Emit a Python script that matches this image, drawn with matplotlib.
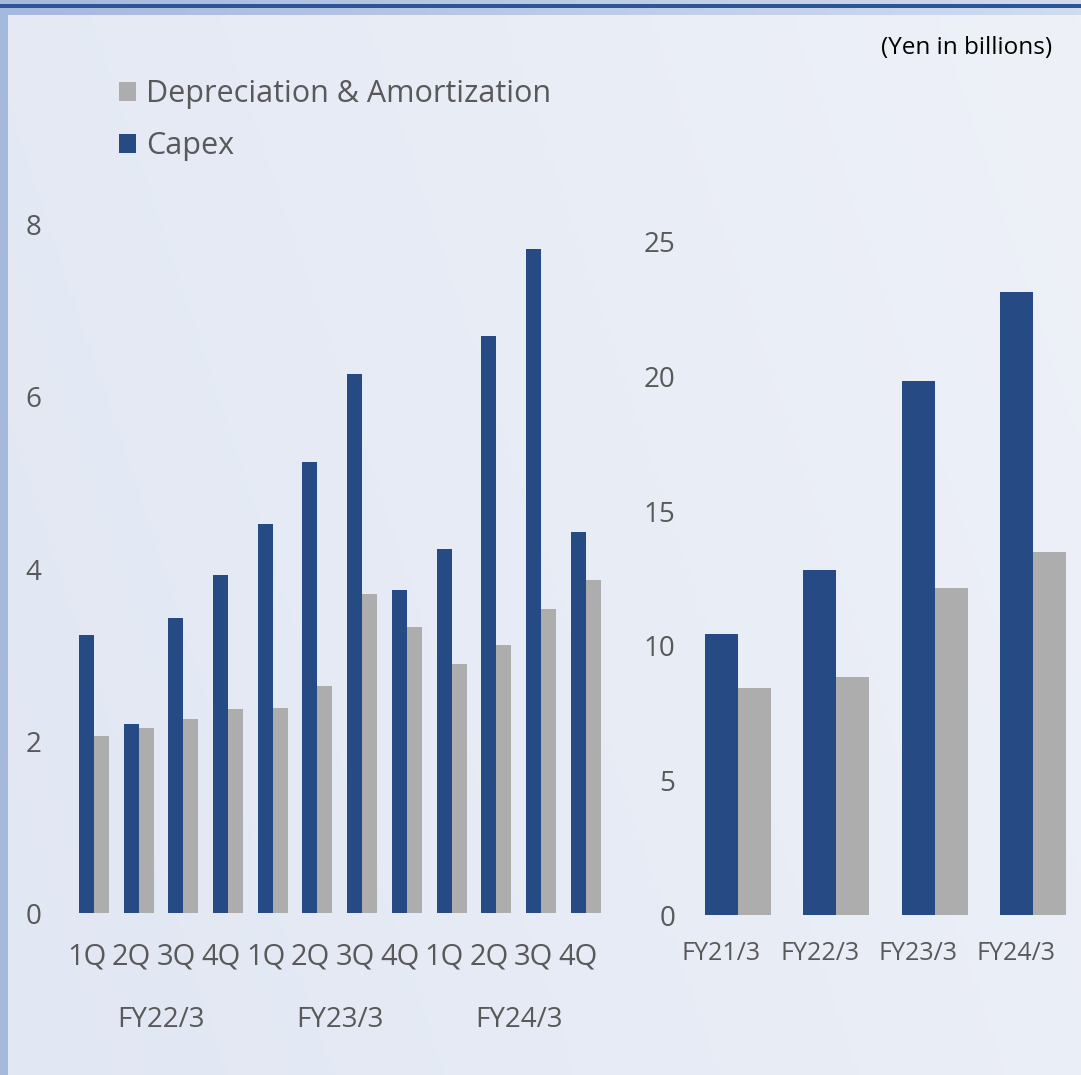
import numpy as np
import matplotlib
matplotlib.use("Agg")
import matplotlib.pyplot as plt
from matplotlib.colors import LinearSegmentedColormap
from matplotlib.patches import Rectangle

plt.rcParams['font.family'] = ['Open Sans', 'DejaVu Sans']

# ---- data ----
quarters = ["1Q", "2Q", "3Q", "4Q"] * 3
fiscal_years_q = ["FY22/3", "FY23/3", "FY24/3"]
capex_q = [3.23, 2.20, 3.43, 3.93, 4.52, 5.24, 6.27, 3.76, 4.23, 6.71, 7.72, 4.43]
da_q = [2.06, 2.15, 2.26, 2.37, 2.38, 2.64, 3.71, 3.33, 2.90, 3.12, 3.53, 3.87]

years = ["FY21/3", "FY22/3", "FY23/3", "FY24/3"]
capex_y = [10.45, 12.83, 19.85, 23.16]
da_y = [8.44, 8.85, 12.16, 13.49]

left_ticks = [0, 2, 4, 6, 8]
right_ticks = [0, 5, 10, 15, 20, 25]

CAPEX = "#264A84"
DA = "#ADADAD"
TXT = "#595959"

W, H = 1081, 1075
fig = plt.figure(figsize=(W / 100, H / 100), dpi=100)

# ---- background gradient ----
bg = fig.add_axes([0, 0, 1, 1], zorder=-10)
bg.set_axis_off()
cmap = LinearSegmentedColormap.from_list("bg", ["#E1E7F3", "#EEF1F8"])
xx, yy = np.meshgrid(np.linspace(0, 1, 200), np.linspace(0, 1, 200))
grad = 0.75 * xx + 0.25 * yy
bg.imshow(grad, cmap=cmap, extent=[0, 1, 0, 1], origin="lower", aspect="auto")
bg.add_patch(Rectangle((0, 0), 8 / W, 1, color="#A5B9DD", lw=0))
topcmap = LinearSegmentedColormap.from_list("top", ["#A5B9DD", "#D0DBEE"])
bg.imshow(np.linspace(0, 1, 200)[None, :], cmap=topcmap,
          extent=[0, 1, 1 - 15 / H, 1], aspect="auto")
bg.add_patch(Rectangle((0, 1 - 8 / H), 1, 4 / H, color="#2F5496", lw=0))
bg.set_xlim(0, 1)
bg.set_ylim(0, 1)

# ---- left chart ----
axL = fig.add_axes([71.6 / W, 162 / H, 536.4 / W, 688 / H])
axL.patch.set_alpha(0)
x = np.arange(len(capex_q))
bw = 0.335
b1 = axL.bar(x - bw / 2, capex_q, bw, color=CAPEX, label="Capex")
b2 = axL.bar(x + bw / 2, da_q, bw, color=DA, label="Depreciation & Amortization")
axL.set_xlim(-0.5, len(x) - 0.5)
axL.set_ylim(0, 8)
axL.set_yticks(left_ticks)
axL.set_yticklabels([str(t) for t in left_ticks])
axL.set_xticks(x - 0.16)
axL.set_xticklabels(quarters)
axL.tick_params(axis="y", length=0, pad=22, labelsize=20, labelcolor=TXT)
axL.tick_params(axis="x", length=0, pad=21, labelsize=21, labelcolor=TXT)
for s in axL.spines.values():
    s.set_visible(False)
for i, fy in enumerate(fiscal_years_q):
    axL.text(i * 4 + 1.5, (913 - 1020) / 688, fy,
             transform=axL.get_xaxis_transform(),
             ha="center", va="center", fontsize=20, color=TXT)

# ---- right chart ----
axR = fig.add_axes([689 / W, 160 / H, 393 / W, 673 / H])
axR.patch.set_alpha(0)
xr = np.arange(len(years))
axR.bar(xr - bw / 2, capex_y, bw, color=CAPEX)
axR.bar(xr + bw / 2, da_y, bw, color=DA)
axR.set_xlim(-0.5, len(xr) - 0.5)
axR.set_ylim(0, 25)
axR.set_yticks(right_ticks)
axR.set_yticklabels([str(t) for t in right_ticks])
axR.set_xticks(xr - 0.17)
axR.set_xticklabels(years)
axR.tick_params(axis="y", length=0, pad=10, labelsize=20, labelcolor=TXT)
axR.tick_params(axis="x", length=0, pad=19, labelsize=18, labelcolor=TXT)
for s in axR.spines.values():
    s.set_visible(False)

# ---- legend ----
fig.legend([b2, b1], ["Depreciation & Amortization", "Capex"],
           loc="upper left", bbox_to_anchor=(119 / W, 1 - 79 / H),
           frameon=False, fontsize=22, labelcolor=TXT,
           handlelength=0.56, handleheight=0.56, handletextpad=0.33,
           labelspacing=0.73, borderaxespad=0, borderpad=0)

fig.text(1052 / W, 1 - 48 / H, "(Yen in billions)", ha="right", va="center",
         fontsize=17.5, color="#000000")

fig.savefig("out.png", dpi=100)
